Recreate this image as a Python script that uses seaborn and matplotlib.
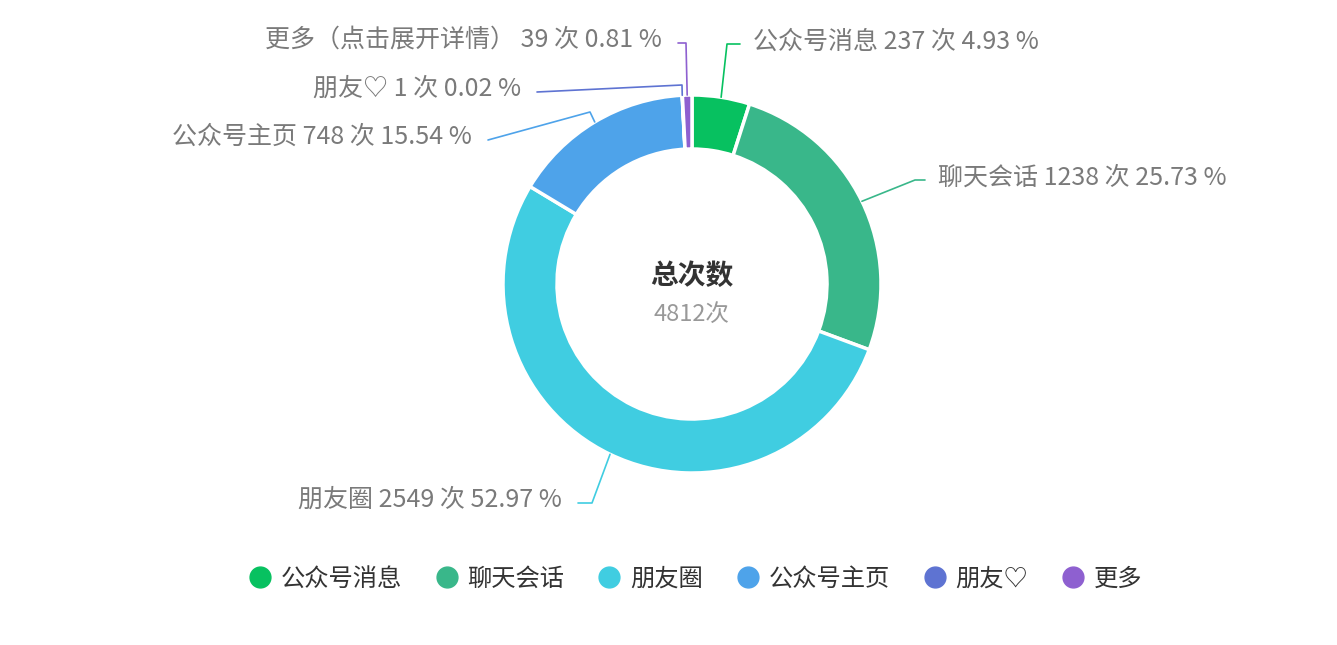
import matplotlib.pyplot as plt
import seaborn as sns
import numpy as np
from matplotlib.lines import Line2D

sns.set_theme(style='white')
plt.rcParams['font.family'] = ['Noto Sans CJK SC', 'DejaVu Sans']

# 数据
names = ['公众号消息', '聊天会话', '朋友圈', '公众号主页', '朋友♡', '更多']
label_names = ['公众号消息', '聊天会话', '朋友圈', '公众号主页', '朋友♡', '更多（点击展开详情）']
counts = [237, 1238, 2549, 748, 1, 39]
percents = [4.93, 25.73, 52.97, 15.54, 0.02, 0.81]
colors = ['#07C160', '#39B78A', '#40CDE1', '#4EA3EA', '#5E73D2', '#8E60D0']

W, H = 1337, 645
cx, cy = 692, 284
r_out, ring = 189, 54

# 标签布局 (像素坐标): 折点, 线末端
elbows = [(727, 44), (915, 180), (592, 503), (590, 112), (682, 85), (686, 43)]
ends = [(740, 44), (925, 180), (578, 503), (488, 140), (537, 92), (678, 43)]

fig = plt.figure(figsize=(W / 100, H / 100), dpi=100)
ax = fig.add_axes([0, 0, 1, 1])

def fy(y):
    return H - y

wedges, _ = ax.pie(counts, colors=colors, startangle=90, counterclock=False,
                   center=(cx, fy(cy)), radius=r_out,
                   wedgeprops=dict(width=ring, edgecolor='white', linewidth=2.5,
                                   joinstyle='round'))
ax.set_xlim(0, W)
ax.set_ylim(0, H)
ax.axis('off')

for i, w in enumerate(wedges):
    ang = np.deg2rad((w.theta1 + w.theta2) / 2)
    x0 = cx + r_out * np.cos(ang)
    y0 = fy(cy) + r_out * np.sin(ang)
    ex, ey = elbows[i]
    lx, ly = ends[i]
    ax.plot([x0, ex, lx], [y0, fy(ey), fy(ly)], color=colors[i], lw=1.2)
    txt = f'{label_names[i]} {counts[i]} 次 {percents[i]:.2f} %'
    if lx > ex:
        ax.text(lx + 13, fy(ly) + 2, txt, ha='left', va='center', fontsize=18, color='#7a7a7a')
    else:
        ax.text(lx - 16, fy(ly) + 3, txt, ha='right', va='center', fontsize=18, color='#7a7a7a')

total = sum(counts)
ax.text(cx, fy(276), '总次数', ha='center', va='center', fontsize=20,
        fontweight='bold', color='#333333')
ax.text(cx, fy(314), f'{total}次', ha='center', va='center', fontsize=17, color='#999999')

handles = [Line2D([], [], marker='o', ls='', markersize=15, color=c) for c in colors]
fig.legend(handles, names, loc='center', bbox_to_anchor=(692 / W, 1 - 579 / H),
           ncol=6, frameon=False, fontsize=17.5, handletextpad=0.1, columnspacing=1.1,
           handlelength=1.5, labelcolor='#333333')

plt.savefig('out.png', dpi=100)
